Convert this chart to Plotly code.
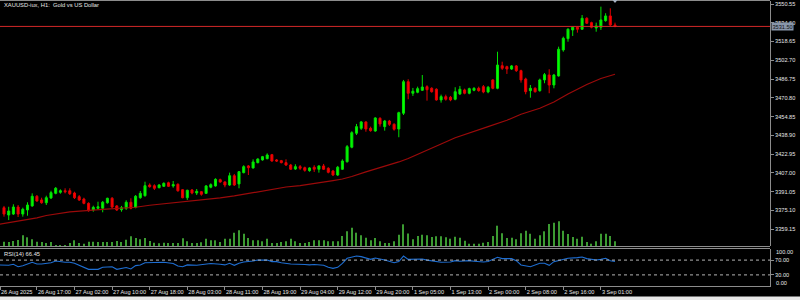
import plotly.graph_objects as go

# ---------------- data ----------------
bars = list(range(131))
opens = [3377.4,3371.2,3372.0,3378.0,3372.0,3375.5,3378.9,3387.1,3384.0,3381.6,
         3385.7,3389.6,3390.5,3391.8,3391.8,3389.9,3386.8,3384.8,3381.1,3375.5,
         3376.9,3376.9,3381.6,3385.4,3378.9,3375.7,3376.9,3382.0,3377.7,3385.9,
         3387.6,3396.7,3396.1,3394.4,3395.6,3398.6,3395.9,3397.3,3392.7,3385.9,
         3392.5,3389.9,3391.0,3389.6,3394.8,3395.9,3401.2,3399.3,3396.7,3404.6,
         3397.6,3407.2,3412.9,3411.2,3415.7,3418.0,3419.1,3422.5,3418.0,3417.4,
         3415.7,3413.7,3410.3,3412.3,3411.4,3408.9,3411.8,3410.1,3412.9,3410.9,
         3408.6,3405.2,3410.1,3416.5,3428.8,3440.7,3444.9,3450.3,3444.9,3442.6,
         3453.4,3446.3,3451.1,3448.3,3444.3,3457.7,3484.5,3474.7,3475.5,3477.2,
         3480.3,3478.9,3478.1,3469.0,3471.8,3471.3,3469.6,3474.1,3477.5,3474.7,
         3477.2,3478.9,3480.3,3475.8,3486.0,3478.9,3498.1,3497.3,3495.3,3497.9,
         3493.9,3486.8,3476.9,3478.9,3476.9,3486.0,3490.2,3481.7,3489.4,3511.5,
         3521.1,3528.5,3530.8,3529.1,3538.4,3534.7,3530.2,3530.8,3536.4,3540.4,
         3532.7]
highs = [3378.9,3378.2,3380.3,3379.7,3377.4,3382.0,3389.6,3388.2,3385.9,3387.6,
         3391.8,3395.0,3393.0,3393.9,3393.9,3391.0,3388.2,3385.9,3382.0,3379.1,
         3382.5,3383.1,3385.9,3386.5,3379.7,3378.9,3383.7,3385.4,3388.2,3391.6,
         3399.5,3398.1,3397.3,3397.5,3399.0,3399.5,3400.1,3398.1,3393.3,3392.7,
         3393.3,3393.3,3391.6,3396.7,3398.1,3402.4,3402.1,3399.8,3407.2,3406.1,
         3408.6,3413.5,3413.7,3418.5,3419.4,3421.4,3423.6,3423.1,3418.8,3418.0,
         3418.5,3414.6,3414.3,3413.7,3412.3,3411.8,3413.5,3413.5,3414.6,3411.8,
         3409.5,3412.9,3418.5,3430.7,3442.4,3448.6,3451.1,3450.9,3446.3,3454.3,
         3454.3,3452.0,3452.0,3449.2,3459.0,3486.0,3486.6,3479.2,3480.3,3490.2,
         3481.5,3479.8,3478.9,3473.5,3473.5,3472.4,3479.8,3480.9,3478.6,3479.4,
         3479.8,3480.3,3481.7,3480.9,3486.6,3510.0,3501.5,3498.1,3498.7,3498.7,
         3494.7,3487.9,3481.7,3479.8,3487.1,3491.9,3495.1,3491.1,3514.3,3522.8,
         3529.9,3531.3,3531.3,3541.2,3539.3,3535.5,3534.7,3548.3,3542.7,3546.9,
         3534.7]
lows = [3369.8,3366.9,3371.2,3369.5,3369.8,3370.6,3378.2,3382.5,3380.8,3379.7,
        3384.8,3388.8,3389.3,3389.6,3388.2,3384.8,3383.1,3380.3,3374.0,3374.0,
        3375.5,3373.5,3380.8,3376.9,3374.6,3374.0,3375.5,3376.0,3376.9,3385.0,
        3386.8,3394.4,3392.5,3393.9,3395.0,3395.0,3394.4,3391.0,3385.4,3384.0,
        3388.8,3388.2,3387.6,3389.1,3393.9,3395.3,3398.6,3394.8,3395.9,3395.9,
        3393.9,3406.6,3405.2,3410.6,3415.1,3417.4,3418.5,3416.5,3416.3,3415.1,
        3412.9,3409.5,3409.5,3409.5,3408.0,3408.0,3407.8,3407.2,3409.5,3406.6,
        3404.4,3404.4,3409.5,3415.7,3427.9,3439.2,3443.5,3442.0,3442.0,3442.0,
        3446.3,3442.9,3446.9,3442.9,3437.3,3456.2,3469.6,3472.4,3474.7,3476.6,
        3468.4,3475.2,3468.4,3466.7,3468.4,3467.9,3468.7,3473.2,3473.8,3473.8,
        3476.4,3476.0,3474.7,3474.7,3478.1,3478.1,3494.5,3491.1,3494.5,3492.8,
        3483.7,3473.8,3470.9,3475.2,3476.0,3483.2,3474.7,3478.9,3488.8,3510.0,
        3518.5,3523.4,3526.2,3528.5,3533.6,3529.9,3527.0,3528.5,3535.5,3531.9,
        3530.8]
closes = [3372.0,3374.6,3378.0,3372.0,3376.0,3379.7,3387.1,3383.1,3381.6,3385.9,
          3390.2,3393.9,3391.8,3391.0,3389.3,3385.9,3384.0,3381.1,3374.8,3377.7,
          3378.2,3382.0,3385.4,3378.0,3375.5,3377.4,3382.0,3376.9,3387.1,3389.6,
          3396.1,3395.3,3393.9,3396.7,3398.1,3395.6,3397.0,3391.8,3385.9,3392.2,
          3389.9,3391.3,3388.8,3395.9,3397.0,3401.5,3399.3,3396.7,3404.6,3396.7,
          3408.0,3412.3,3411.4,3416.3,3418.8,3420.8,3422.2,3417.1,3417.1,3415.7,
          3413.7,3410.1,3412.3,3410.9,3409.2,3411.2,3410.1,3412.9,3410.1,3407.5,
          3405.2,3411.8,3417.1,3429.3,3441.2,3446.3,3450.3,3444.3,3442.9,3453.7,
          3448.6,3451.1,3448.3,3444.1,3458.2,3484.5,3474.7,3476.4,3478.6,3480.0,
          3477.7,3476.0,3469.0,3471.8,3469.6,3469.0,3476.0,3478.1,3474.7,3478.6,
          3478.9,3476.9,3475.8,3479.8,3478.9,3498.7,3495.9,3495.3,3497.9,3493.9,
          3486.0,3476.0,3478.9,3476.0,3486.0,3490.5,3481.7,3490.2,3512.1,3521.4,
          3529.1,3530.8,3529.1,3538.4,3534.2,3530.8,3531.9,3537.0,3540.4,3532.7,
          3531.5]
volumes = [4300,4000,5000,6000,10700,8700,6700,4300,4000,3000,
           4000,1000,1000,1000,3000,5700,3000,2300,4300,4300,
           4000,4000,4000,4000,5000,4000,6300,9700,8000,6700,
           8000,5000,3300,2700,3300,3000,3000,3000,7700,4700,
           3000,3000,3700,7300,5700,5700,4000,7300,7300,13300,
           15700,12300,8000,5700,5700,4700,7300,3000,3000,4000,
           4700,7300,4700,3000,3000,4000,5700,5700,5700,4700,
           4700,4700,10000,14700,18300,13300,10700,8300,5700,8000,
           4700,3000,3000,4700,11300,21700,12500,6700,10000,11300,
           10700,9000,9700,9700,8700,7300,9300,8300,5300,2300,
           2300,2300,3300,4000,10000,20300,12700,8000,8300,6700,
           12700,15300,12300,7300,10700,14700,22000,23300,24700,15300,
           12000,9000,7300,9300,4000,2300,4700,12300,12300,10000,
           4700]
ma_bars = [-1,7,9,14,21,28,31,35,39,42,46,49,53,56,60,63,67,70,72,74,77,81,84,86,
           89,93,96,100,103,107,110,114,117,120,124,127,130]
ma_values = [3363.3,3368.7,3370.8,3373.8,3375.9,3377.8,3379.5,3381.0,3382.7,3384.0,
             3385.7,3387.4,3390.2,3392.5,3395.0,3396.1,3398.2,3400.4,3401.8,3403.9,
             3407.8,3412.5,3416.3,3419.2,3424.3,3431.6,3436.9,3442.6,3446.3,3451.7,
             3456.8,3461.9,3467.3,3474.1,3482.1,3487.2,3490.8]
rsi_bars = [-1,1,2,3,4,6,7,8,10,11,13,14,15,17,18,20,21,23,24,26,27,28,29,30,32,34,
            36,37,38,39,41,43,44,46,47,48,49,50,51,53,54,56,57,58,59,61,62,64,65,66,
            68,69,70,71,72,73,75,76,78,79,81,83,84,85,86,88,89,90,92,93,95,96,97,99,
            100,102,103,105,106,108,109,110,112,113,114,115,116,117,119,120,122,123,
            124,126,127,128,129,130]
rsi_values = [56.8,55.9,58.6,52.2,54.5,64.0,59.5,59.5,63.0,67.6,64.0,64.0,61.3,50.5,
              45.0,45.0,50.5,52.2,45.0,50.0,46.0,55.0,56.8,63.0,64.0,64.0,61.0,54.0,
              52.2,57.0,56.0,58.6,61.0,58.6,57.0,61.3,55.9,61.3,64.9,67.6,70.3,70.0,
              66.0,65.8,63.0,59.5,59.5,58.0,57.0,58.0,56.0,50.5,47.7,50.5,61.3,74.8,
              81.0,79.3,72.0,75.7,70.3,63.0,66.0,81.0,72.0,72.5,73.0,70.0,64.9,64.0,
              64.9,68.5,67.0,68.5,67.0,64.9,66.0,77.5,74.0,73.9,68.5,56.8,52.2,56.0,
              61.3,61.3,55.9,65.8,73.0,74.8,76.6,78.4,74.0,70.3,72.0,74.8,68.0,66.45]
price_ticks = [3359.15,3375.10,3391.05,3407.00,3422.95,3438.90,3454.85,3470.80,
               3486.75,3502.70,3518.65,3534.60,3550.55]
tick_bars = [-0.85,7,15,23,31,39,47,55,63,71,79,87,95,103,111,119,127]
tick_labels = ["26 Aug 2025","26 Aug 17:00","27 Aug 02:00","27 Aug 10:00",
               "27 Aug 18:00","28 Aug 03:00","28 Aug 11:00","28 Aug 19:00",
               "29 Aug 04:00","29 Aug 12:00","29 Aug 20:00","1 Sep 05:00",
               "1 Sep 13:00","2 Sep 00:00","2 Sep 08:00","2 Sep 16:00","3 Sep 01:00"]
last_price = 3531.50
last_rsi = 66.45

# ---------------- figure ----------------
W, H = 800, 300
XR = 770 / W
def py(p):
    return 1 - p / H

FONT = "Liberation Sans"
TXT = "#e6e6e6"
GRAY = "#8c8c8c"

fig = go.Figure()

fig.add_trace(go.Bar(x=bars, y=volumes, width=0.22, marker=dict(color="#3c9b32", line=dict(width=0)),
                     xaxis="x", yaxis="y3", hoverinfo="skip", showlegend=False))

fig.add_trace(go.Candlestick(
    x=bars, open=opens, high=highs, low=lows, close=closes,
    increasing=dict(fillcolor="#00ff00", line=dict(color="#00e000", width=1)),
    decreasing=dict(fillcolor="#ff0000", line=dict(color="#e00000", width=1)),
    whiskerwidth=0, xaxis="x", yaxis="y", showlegend=False))

fig.add_trace(go.Scatter(x=ma_bars, y=ma_values, mode="lines",
                         line=dict(color="#9b0a0a", width=1.2), xaxis="x", yaxis="y",
                         showlegend=False, hoverinfo="skip"))

fig.add_trace(go.Scatter(x=rsi_bars, y=rsi_values, mode="lines",
                         line=dict(color="#1e6ed2", width=1.1), xaxis="x", yaxis="y2",
                         showlegend=False, hoverinfo="skip"))

tickfont = dict(family=FONT, size=5.6, color=TXT)

fig.update_layout(
    width=W, height=H, margin=dict(l=0, r=0, t=0, b=0),
    paper_bgcolor="black", plot_bgcolor="black",
    boxgap=0.38,
    xaxis=dict(domain=[0, XR], range=[-0.851, 162.98], anchor="y2",
               tickvals=tick_bars, ticktext=tick_labels, ticks="outside", ticklen=3,
               tickcolor=GRAY, showline=True, linecolor=GRAY, linewidth=1,
               ticklabelposition="outside right", tickangle=0, tickfont=tickfont,
               showgrid=False, zeroline=False, rangeslider=dict(visible=False)),
    yaxis=dict(domain=[py(246), py(1)], range=[3344.85, 3553.1], side="right", anchor="x",
               tickvals=price_ticks, ticktext=[f"{v:.2f}" for v in price_ticks],
               ticks="outside", ticklen=3, tickcolor=GRAY, showline=True, linecolor=GRAY,
               tickfont=tickfont, showgrid=False, zeroline=False),
    yaxis2=dict(domain=[py(286), py(249)], range=[0, 100], side="right", anchor="x",
                tickvals=[30, 70], ticktext=["30.00", "70.00"], ticks="outside", ticklen=3,
                tickcolor=GRAY, showline=True, linecolor=GRAY, tickfont=tickfont,
                showgrid=False, zeroline=False),
    yaxis3=dict(overlaying="y", range=[0, 245000], visible=False, anchor="x"),
)

shapes = []
# frame lines
for yy in (0.5, 246.5, 248.5):
    shapes.append(dict(type="line", xref="paper", yref="paper", x0=0, x1=XR,
                       y0=py(yy), y1=py(yy), line=dict(color=GRAY, width=1)))
# RSI levels
for lvl in (70, 30):
    shapes.append(dict(type="line", xref="paper", yref="y2", x0=0, x1=XR, y0=lvl, y1=lvl,
                       line=dict(color="#b4b4b4", width=1, dash="dot")))
# current price line
shapes.append(dict(type="line", xref="paper", yref="y", x0=0, x1=XR, y0=last_price,
                   y1=last_price, line=dict(color="#d22828", width=1)))
# chart shift marker
shapes.append(dict(type="path", xref="paper", yref="paper",
                   path=f"M {612.5/W},{py(0)} L {617.5/W},{py(0)} L {615/W},{py(3)} Z",
                   fillcolor="#a8b4c4", line=dict(width=0)))
# bottom strip
shapes.append(dict(type="rect", xref="paper", yref="paper", x0=0, x1=1, y0=0, y1=py(296.5),
                   fillcolor="#e8e8e8", line=dict(width=0)))
fig.update_layout(shapes=shapes)

ann = []
ann.append(dict(xref="paper", yref="paper", x=2 / W, y=py(5.5), xanchor="left", yanchor="middle",
                text="XAUUSD-iux, H1:  Gold vs US Dollar", showarrow=False,
                font=dict(family=FONT, size=5.8, color=TXT)))
ann.append(dict(xref="paper", yref="paper", x=2 / W, y=py(254), xanchor="left", yanchor="middle",
                text=f"RSI(14) {last_rsi:.2f}", showarrow=False,
                font=dict(family=FONT, size=5.8, color=TXT)))
ann.append(dict(xref="paper", yref="paper", x=774 / W, y=py(252), xanchor="left", yanchor="middle",
                text="100.00", showarrow=False, font=tickfont))
ann.append(dict(xref="paper", yref="paper", x=774 / W, y=py(283), xanchor="left", yanchor="middle",
                text="0.00", showarrow=False, font=tickfont))
ann.append(dict(xref="paper", yref="y", x=771 / W, y=last_price, xanchor="left", yanchor="middle",
                text=f"{last_price:.2f}", showarrow=False, bgcolor="#8896aa", borderpad=0.5,
                font=dict(family=FONT, size=5.6, color="#101010")))
fig.update_layout(annotations=ann)

fig.write_html("out.html")
